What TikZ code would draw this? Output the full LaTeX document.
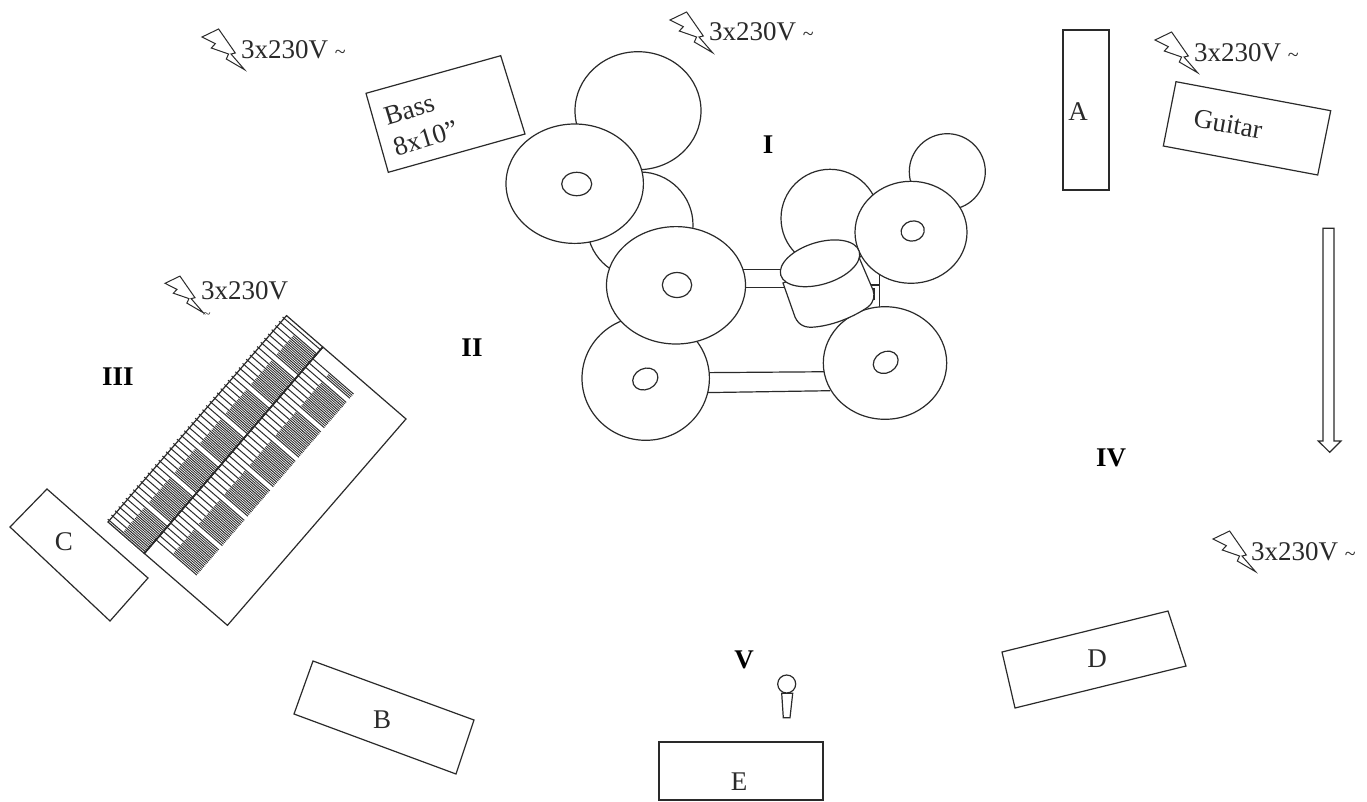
\documentclass[tikz,border=0pt]{standalone}
\usepackage{fontspec}
\setmainfont{Liberation Serif}
\definecolor{ink}{HTML}{2A2A2A}
\tikzset{
  outline/.style={draw=ink,line width=1.2pt,line join=miter},
  shapewhite/.style={outline,fill=white},
  lab/.style={inner sep=0pt,yshift=-1pt,font=\fontsize{27}{32}\selectfont,text=ink},
  roman/.style={inner sep=0pt,yshift=-1pt,font=\fontsize{27}{27}\selectfont\bfseries,text=black},
  power/.style={inner sep=0pt,yshift=-1pt,anchor=base west,font=\fontsize{27}{27}\selectfont,text=ink},
  keyline/.style={draw=ink,line width=1pt},
  blackline/.style={draw=ink,line width=0.8pt},
  boltmark/.pic={\draw[outline,line width=1pt,fill=white] (0,0) -- (16.6,-8) -- (33.3,16) -- (29,17) -- (42.6,32.7) -- (24.3,22) -- (26.6,17) -- (9.3,11) -- (13.3,6.7) -- cycle;}
}
\newcommand{\smalltilde}{{\fontsize{20}{20}\selectfont\textasciitilde}}
\begin{document}
\begin{tikzpicture}[x=1pt,y=-1pt]
\useasboundingbox (0,0) rectangle (1367,801);
\fill[white] (0,0) rectangle (1367,801);

% rectangles
\draw[outline] (366,93.3) -- (500.7,55.7) -- (525,134) -- (388.3,172.3) -- cycle;
\node[lab,rotate=17,align=left] (bass) at (421,122) {Bass\\8x10”};
\draw[outline] (1063,30) -- (1109,30) -- (1109,190) -- (1063,190) -- cycle;
\node[lab] (a) at (1078,111) {A};
\draw[outline] (1176,81.7) -- (1330.7,110.7) -- (1317.7,175) -- (1163.3,146) -- cycle;
\node[lab,rotate=-10] (guitar) at (1228,123) {Guitar};
\draw[outline] (47,489) -- (148,578) -- (110,621) -- (10,527) -- cycle;
\node[lab] (c) at (64,541) {C};
\draw[outline] (313,661) -- (474,720) -- (456,774) -- (294,714) -- cycle;
\node[lab] (b) at (382,719) {B};
\draw[outline] (1002,652) -- (1168,611) -- (1186,666) -- (1015,708) -- cycle;
\node[lab] (d) at (1097,658) {D};
\draw[outline] (659,742) -- (823,742) -- (823,800) -- (659,800) -- cycle;
\node[lab] (e) at (739,781) {E};

% drum kit: bars
\draw[outline] (720,269.3) -- (790,269.3) (720,287.3) -- (790,287.3);
\draw[outline] (700,372.7) -- (830,371.7) (700,392.7) -- (830,390.7);
\draw[outline] (871,285) -- (879.3,285) (879.3,270) -- (879.3,310) (874,288) -- (874,300);
% back circles
\draw[shapewhite] (638,110.7) ellipse [x radius=63,y radius=59];
\draw[shapewhite] (640,225) circle [radius=53];
\draw[shapewhite] (947.3,171.7) circle [radius=38];
\draw[shapewhite] (830,218.3) circle [radius=49];
% cymbals and toms
\draw[shapewhite] (574.7,183.7) ellipse [x radius=68.7,y radius=59.7];
\draw[outline] (576.7,184) ellipse [x radius=15,y radius=11.7];
\draw[shapewhite] (645.7,378.3) ellipse [x radius=63.7,y radius=62];
\draw[outline,rotate around={25:(645.3,379)}] (645.3,379) ellipse [x radius=13,y radius=10.5];
\draw[shapewhite] (676,285.3) ellipse [x radius=69.5,y radius=58.7];
\draw[outline] (677,285) ellipse [x radius=14.7,y radius=12.5];
\draw[shapewhite] (885,363) ellipse [x radius=61.7,y radius=56.3];
\draw[outline,rotate around={30:(885.7,362.3)}] (885.7,362.3) ellipse [x radius=13,y radius=10.5];
\draw[shapewhite] (911,232.3) ellipse [x radius=56,y radius=51];
\draw[outline,rotate around={15:(912.7,231)}] (912.7,231) ellipse [x radius=11.7,y radius=10];
% snare
\draw[shapewhite] (783,283) -- (795,317) .. controls (799,326) and (806,328) .. (815,327) .. controls (835,325) and (855,316) .. (868,307) .. controls (874,302) and (875,296) .. (873,290) -- (858,255) -- cycle;
\draw[shapewhite,rotate around={17:(820,263.3)}] (820,263.3) ellipse [x radius=41,y radius=21];

% microphone
\draw[outline] (781.7,693.3) -- (792.7,693.3) -- (790,717.7) -- (783.3,717.7) -- cycle;
\draw[shapewhite] (786.7,684) circle [radius=9];

% stage direction arrow
\draw[outline] (1323,228.3) -- (1334,228.3) -- (1334,441) -- (1341,441) -- (1329.7,452.3) -- (1318.3,441) -- (1323,441) -- cycle;

% keyboard
\begin{scope}[shift={(108,522)},x={(.654pt,.756pt)},y={(.756pt,-.654pt)}]
  \draw[outline] (0,48) -- (273,48) -- (273,158) -- (0,158) -- cycle;
  \draw[outline] (0,0) -- (273,0) -- (273,48) -- (0,48) -- cycle;
  \draw[outline,line width=1.6pt] (0,48) -- (273,48);
  \foreach \i in {0,...,48}{
    \pgfmathsetmacro{\t}{\i*5.57+2}
    \draw[keyline] (\t,-2) -- (\t,48);
    \pgfmathtruncatemacro{\m}{mod(\i,7)}
    \ifnum\m=6\else
      \ifnum\i<47
      \foreach \o in {1.9,3.7}{\draw[blackline] (\t+\o,18) -- (\t+\o,48);}
      \fi
    \fi
  }
  \foreach \i in {0,...,43}{
    \pgfmathsetmacro{\t}{\i*5.57+18}
    \draw[keyline] (\t,48) -- (\t,102);
    \pgfmathtruncatemacro{\m}{mod(\i,7)}
    \ifnum\m=6\else
      \ifnum\i<43
      \foreach \o in {1.9,3.7}{\draw[blackline] (\t+\o,70) -- (\t+\o,102);}
      \fi
    \fi
  }
\end{scope}

% power marks
\pic at (202,37) {boltmark};
\node[power] (p1) at (241,57) {3x230V \smalltilde};
\pic at (670,20) {boltmark};
\node[power] (p2) at (709,39) {3x230V \smalltilde};
\pic at (1155,40) {boltmark};
\node[power] (p3) at (1194,60) {3x230V \smalltilde};
\pic[scale=.9] at (165,283.3) {boltmark};
\node[power] (p4) at (201,298) {3x230V};
\node[inner sep=0pt,font=\fontsize{14}{14}\selectfont,text=ink] (p4t) at (207,316) {\textasciitilde};
\pic at (1213,539) {boltmark};
\node[power] (p5) at (1251,559) {3x230V \smalltilde};

% zones
\node[roman] (zi) at (768,144) {I};
\node[roman] (zii) at (472,347) {II};
\node[roman] (ziii) at (118,376) {III};
\node[roman] (ziv) at (1111,457) {IV};
\node[roman] (zv) at (744,659) {V};
\end{tikzpicture}
\end{document}
